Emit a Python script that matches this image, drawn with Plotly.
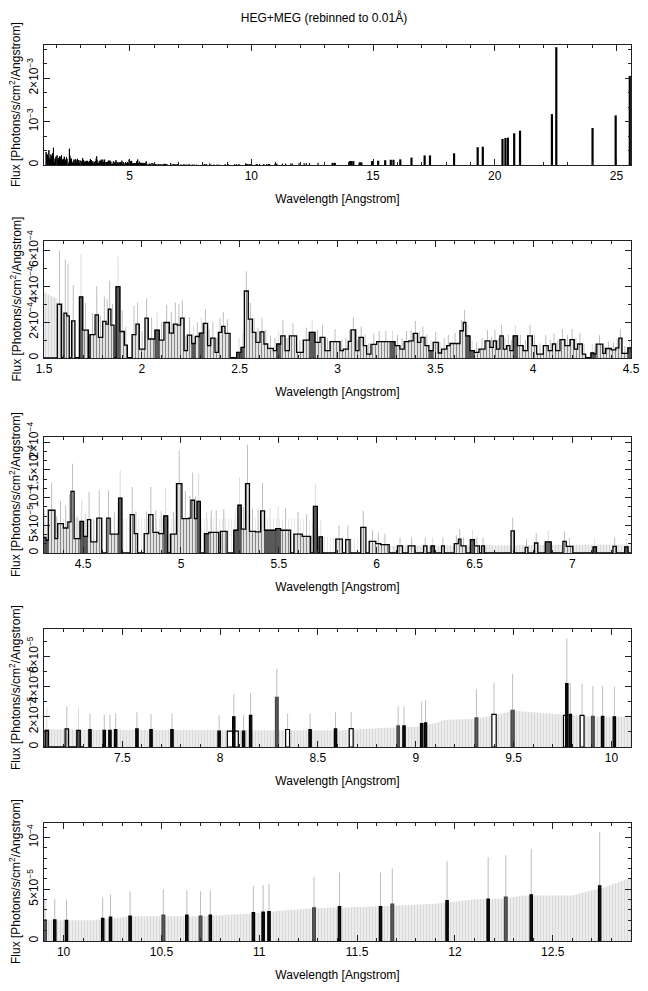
import numpy as np
import plotly.graph_objects as go
from plotly.subplots import make_subplots

SCALE = 1e-5  # all flux values below are in units of 1e-5 photons/s/cm^2/Angstrom

# ---- binned spectrum 1.5 - 7.3 A (left bin edges, flux, upper error) ----
bin_lo = [
    1.500, 1.568, 1.590, 1.602, 1.616, 1.629, 1.641, 1.658, 1.681, 1.698,
    1.727, 1.735, 1.761, 1.778, 1.800, 1.817, 1.829, 1.842, 1.858, 1.868,
    1.888, 1.911, 1.926, 1.950, 1.970, 1.987, 2.016, 2.033, 2.067, 2.089,
    2.113, 2.141, 2.161, 2.181, 2.198, 2.216, 2.233, 2.255, 2.273, 2.294,
    2.314, 2.336, 2.352, 2.374, 2.391, 2.408, 2.425, 2.451, 2.485, 2.507,
    2.524, 2.544, 2.565, 2.583, 2.604, 2.624, 2.643, 2.672, 2.689, 2.710,
    2.732, 2.754, 2.791, 2.825, 2.856, 2.885, 2.911, 2.936, 2.962, 3.013,
    3.030, 3.055, 3.069, 3.093, 3.110, 3.132, 3.149, 3.171, 3.200, 3.226,
    3.268, 3.294, 3.319, 3.341, 3.365, 3.387, 3.409, 3.426, 3.447, 3.467,
    3.489, 3.515, 3.532, 3.558, 3.575, 3.626, 3.643, 3.656, 3.677, 3.699,
    3.723, 3.754, 3.779, 3.796, 3.813, 3.830, 3.847, 3.864, 3.881, 3.898,
    3.920, 3.949, 3.972, 3.996, 4.018, 4.052, 4.077, 4.098, 4.115, 4.137,
    4.162, 4.188, 4.210, 4.227, 4.251, 4.268, 4.295, 4.310, 4.322, 4.356,
    4.370, 4.399, 4.422, 4.438, 4.454, 4.484, 4.502, 4.522, 4.539, 4.570,
    4.595, 4.621, 4.638, 4.681, 4.698, 4.741, 4.761, 4.778, 4.812, 4.835,
    4.857, 4.886, 4.912, 4.932, 4.946, 4.977, 5.005, 5.040, 5.051, 5.069,
    5.082, 5.099, 5.120, 5.142, 5.168, 5.193, 5.202, 5.236, 5.270, 5.291,
    5.308, 5.330, 5.350, 5.381, 5.407, 5.427, 5.484, 5.509, 5.560, 5.577,
    5.620, 5.663, 5.677, 5.697, 5.706, 5.723, 5.791, 5.825, 5.842, 5.864,
    5.919, 5.945, 5.962, 5.996, 6.021, 6.064, 6.107, 6.132, 6.161, 6.196,
    6.240, 6.257, 6.278, 6.295, 6.332, 6.346, 6.397, 6.418, 6.431, 6.457,
    6.479, 6.500, 6.525, 6.537, 6.551, 6.687, 6.704, 6.759, 6.773, 6.807,
    6.824, 6.862, 6.892, 6.952, 6.969, 7.003, 7.106, 7.123, 7.208, 7.225,
    7.268, 7.285,
]
bin_end = 7.300
bin_flux = [
    0, 30.0, 0, 25.0, 23.5, 0, 20.7, 0, 34.1, 15.6,
    0, 13.0, 24.1, 11.5, 20.4, 18.9, 27.2, 18.3, 0, 39.8,
    14.8, 7.2, 0, 13.0, 18.9, 5.0, 22.2, 10.6, 15.6, 10.0,
    19.8, 13.9, 18.9, 18.3, 22.2, 4.1, 12.8, 8.1, 12.0, 13.9,
    19.3, 6.9, 11.1, 3.1, 14.3, 17.6, 13.7, 0, 3.1, 5.9,
    37.4, 21.7, 14.3, 8.7, 14.6, 7.8, 5.4, 4.1, 7.8, 12.4,
    4.1, 12.4, 3.1, 10.0, 14.3, 8.7, 11.5, 4.1, 9.1, 4.1,
    5.0, 9.3, 15.7, 4.1, 11.5, 6.9, 2.2, 7.6, 9.1, 9.1,
    9.1, 6.9, 5.0, 9.1, 9.6, 13.7, 8.7, 11.5, 6.9, 4.1,
    8.7, 2.8, 5.0, 6.9, 8.1, 15.2, 19.8, 12.4, 4.1, 3.1,
    5.0, 9.6, 5.9, 9.6, 5.0, 12.4, 5.0, 6.9, 4.1, 12.4,
    6.9, 4.1, 12.4, 6.9, 2.2, 6.9, 4.1, 7.8, 4.1, 10.2,
    6.9, 10.2, 5.0, 7.8, 2.2, 0, 2.8, 2.3, 7.7, 2.6,
    5.3, 4.5, 5.6, 11.1, 2.6, 5.7, 3.0, 6.0, 2.0, 6.3,
    0, 6.3, 3.4, 9.9, 0, 6.9, 3.5, 0, 3.5, 6.9,
    3.7, 3.5, 6.7, 0, 3.4, 12.5, 6.2, 6.3, 9.5, 6.2,
    9.3, 0, 3.5, 3.7, 3.7, 0, 3.9, 0, 4.1, 8.6,
    4.3, 12.5, 3.9, 3.8, 7.6, 4.1, 4.4, 4.1, 0, 3.4,
    3.0, 0, 8.4, 0, 2.9, 0, 2.5, 0, 2.4, 0,
    4.6, 0, 2.1, 1.7, 1.5, 0, 1.3, 0, 1.3, 0,
    1.3, 0, 1.3, 0, 1.3, 0, 1.7, 2.5, 1.3, 0,
    2.4, 1.3, 0, 1.3, 0, 4.0, 0, 1.0, 0, 1.8,
    0, 2.0, 0, 2.1, 1.2, 0, 1.1, 0, 1.2, 0,
    1.1, 0,
]
bin_err = [
    0, 30, 0, 30, 29, 0, 20, 0, 24, 15,
    0, 12, 16, 12, 14, 14, 16, 12, 0, 17,
    12, 10, 0, 16, 12, 10, 11, 12, 10, 10,
    10, 12, 12, 12, 10, 8, 10, 10, 8, 9,
    8, 9, 9, 8, 8, 8, 8, 0, 8, 8,
    11, 9, 8, 8, 8, 8, 7, 7, 7, 9,
    7, 7, 7, 7, 7, 7, 7, 7, 7, 6,
    6, 6, 7, 6, 6, 6, 6, 6, 6, 6,
    6, 6, 6, 6, 6, 7, 6, 6, 6, 6,
    6, 6, 6, 6, 6, 6, 7, 6, 6, 6,
    6, 6, 6, 6, 6, 6, 6, 6, 6, 6,
    6, 6, 6, 6, 6, 6, 6, 6, 6, 6,
    6, 6, 6, 6, 6, 0, 5, 3, 5, 4,
    4, 4, 5, 5, 4, 4, 4, 5, 4, 5,
    0, 5, 4, 5, 0, 5, 4, 0, 4, 5,
    4, 4, 5, 0, 4, 6, 5, 4, 5, 4,
    5, 0, 4, 4, 4, 0, 4, 0, 4, 5,
    4, 7, 4, 4, 5, 4, 4, 4, 0, 4,
    4, 0, 4, 0, 3, 0, 2.5, 0, 2.5, 0,
    3, 0, 2, 2, 2, 0, 1.5, 0, 1.5, 0,
    1.5, 0, 1.5, 0, 1.5, 0, 1.5, 1.8, 1.5, 0,
    1.8, 1.5, 0, 1.5, 0, 2.4, 0, 1.5, 0, 1.8,
    0, 2, 0, 1.8, 1.5, 0, 1.5, 0, 1.5, 0,
    1.5, 0,
]
# bins belonging to the second (grey) grating histogram
dark_lo = [1.681, 1.868, 2.067, 2.255, 2.294, 2.485, 2.507, 2.689, 2.856, 3.268,
           3.467, 3.656, 3.677, 3.898, 4.295, 4.310, 4.484, 4.502, 4.681, 4.912,
           5.082, 5.120, 5.270, 5.291, 5.427, 5.484, 5.677, 5.706, 6.278, 6.479,
           6.862, 7.106, 7.268]

# ---- isolated detected bins 7.3 - 12.9 A ----
sp_wl = [7.335, 7.408, 7.437, 7.466, 7.575, 7.647, 7.754, 7.995, 8.065, 8.070,
         8.120, 8.156, 8.290, 8.345, 8.460, 8.590, 8.670, 8.910, 8.940, 9.030,
         9.050, 9.310, 9.400, 9.495, 9.765, 9.772, 9.790, 9.850, 9.905, 9.955,
         10.015, 10.200, 10.240, 10.340, 10.510, 10.630, 10.700, 10.750, 10.970, 11.020,
         11.050, 11.280, 11.410, 11.620, 11.680, 11.960, 12.170, 12.260, 12.390, 12.740]
sp_width = [0.012, 0.012, 0.012, 0.012, 0.012, 0.012, 0.012, 0.012, 0.056, 0.012,
            0.012, 0.012, 0.014, 0.020, 0.012, 0.012, 0.020, 0.012, 0.012, 0.012,
            0.012, 0.014, 0.022, 0.016, 0.020, 0.012, 0.012, 0.020, 0.014, 0.012,
            0.012, 0.012, 0.012, 0.012, 0.014, 0.012, 0.014, 0.012, 0.012, 0.012,
            0.012, 0.014, 0.012, 0.012, 0.014, 0.012, 0.012, 0.014, 0.012, 0.012]
sp_flux = [1.16, 1.10, 1.10, 1.16, 1.20, 1.16, 1.16, 1.05, 1.05, 2.00,
           1.05, 2.10, 3.30, 1.16, 1.16, 1.20, 1.22, 1.40, 1.40, 1.55,
           1.60, 1.93, 2.16, 2.44, 2.10, 4.20, 2.16, 2.10, 2.04, 2.04,
           2.00, 2.20, 2.30, 2.40, 2.50, 2.50, 2.40, 2.50, 2.75, 2.80,
           2.85, 3.20, 3.33, 3.33, 3.56, 3.90, 4.05, 4.24, 4.47, 5.34]
sp_err = [1.04, 1.05, 1.05, 1.04, 1.10, 1.04, 1.04, 1.05, 0.00, 1.50,
          1.10, 1.50, 1.90, 1.04, 1.04, 1.10, 1.10, 1.30, 1.30, 1.45,
          1.50, 1.90, 2.10, 2.40, 0.00, 3.00, 2.10, 2.10, 2.00, 2.00,
          2.00, 2.00, 2.20, 2.40, 2.50, 2.40, 2.40, 2.40, 2.55, 2.60,
          2.65, 3.00, 3.27, 3.27, 3.44, 3.80, 4.05, 4.06, 4.43, 5.16]
sp_kind = ['b', 'b', 'b', 'b', 'b', 'b', 'b', 'b', 'h', 'b',
           'b', 'b', 'd', 'h', 'b', 'b', 'h', 'd', 'b', 'b',
           'b', 'd', 'h', 'd', 'h', 'b', 'b', 'h', 'd', 'b',
           'b', 'b', 'b', 'b', 'd', 'b', 'd', 'b', 'b', 'b',
           'b', 'd', 'b', 'b', 'd', 'b', 'b', 'd', 'b', 'b']

# ---- upper-limit envelope for empty bins ----
env_a_wl = [1.500, 1.530, 1.568]
env_a_val = [37, 35, 33]
env_b_wl = [4.30, 5.65, 5.72, 5.95, 6.03, 6.08]
env_b_val = [6.2, 6.2, 3.0, 2.6, 1.8, 1.3]
env_c_wl = [6.08, 7.30, 8.60, 8.80, 9.00,
            9.10, 9.15, 9.30, 9.40, 9.50, 9.60, 9.70, 9.90, 10.15, 10.25,
            10.35, 10.70, 11.00, 11.15, 11.30, 11.60, 11.90, 12.10, 12.25, 12.35,
            12.60, 12.68, 12.75, 12.90]
env_c_val = [1.3, 1.15, 1.1, 1.25, 1.35,
             1.6, 1.8, 1.85, 2.1, 2.4, 2.3, 2.2, 2.0, 2.0, 2.2,
             2.4, 2.4, 2.7, 3.0, 3.2, 3.33, 3.6, 4.0, 4.1, 4.4,
             4.4, 4.8, 5.1, 6.1]

# ---- strong long-wavelength lines (full-range panel) ----
line_wl = [13.34, 13.43, 14.06, 14.10, 14.19, 14.45, 14.52, 14.96, 15.21, 15.50,
           15.73, 15.84, 16.12, 16.58, 17.12, 17.34, 18.33, 19.30, 19.51, 20.32,
           20.44, 20.54, 20.80, 21.04, 22.35, 22.53, 24.02, 24.97, 25.55]
line_flux = [5, 5, 9, 9, 9, 6, 6, 9, 10, 11,
             12, 12, 13, 17, 22, 22, 27, 41, 42, 60,
             62, 63, 73, 79, 117, 271, 85, 114, 205]

assert len(bin_lo) == len(bin_flux) == len(bin_err)
assert len(sp_wl) == len(sp_width) == len(sp_flux) == len(sp_err) == len(sp_kind)

# ---------------------------------------------------------------------------
lo = np.array(bin_lo)
hi = np.append(lo[1:], bin_end)
cen = (lo + hi) / 2
flx = np.array(bin_flux) * SCALE
err = np.array(bin_err) * SCALE
dark = np.isin(np.round(lo, 3), np.round(dark_lo, 3))
pos = flx > 0

spw = np.array(sp_wl); spd = np.array(sp_width)
spf = np.array(sp_flux) * SCALE; spe = np.array(sp_err) * SCALE
spk = np.array(sp_kind)


def segs(xs, y0, y1):
    X, Y = [], []
    for x, a, b in zip(xs, y0, y1):
        X += [x, x, None]
        Y += [a, b, None]
    return X, Y


def rects(l, h, t):
    X, Y = [], []
    for a, b, c in zip(l, h, t):
        X += [a, a, b, b, a, None]
        Y += [0, c, c, 0, 0, None]
    return X, Y


FONT = "Liberation Sans, Arial, Helvetica, sans-serif"
PAGE = 8                 # default body margin of the html page
W, H = 648 - 2 * PAGE, 991 - 2 * PAGE
X0, X1 = 44 - PAGE, 631 - PAGE
boxes = [(45, 165), (241, 358), (437, 553), (629, 747), (823, 941)]   # page pixels
x_ranges = [(1.48, 25.6), (1.5, 4.5), (4.3, 7.3), (7.1, 10.1), (9.9, 12.9)]
y_ranges = [2.76e-3, 6.53e-4, 2.09e-4, 7.83e-5, 1.14e-4]
y_ticks = [
    ([0, 1e-3, 2e-3], ["0", "10<sup>−3</sup>", "2×10<sup>−3</sup>"], 1e-3 / 3),
    ([0, 2e-4, 4e-4, 6e-4], ["0", "2×10<sup>−4</sup>", "4×10<sup>−4</sup>", "6×10<sup>−4</sup>"], 1e-4),
    ([0, 5e-5, 1e-4, 1.5e-4, 2e-4], ["0", "5×10<sup>−5</sup>", "10<sup>−4</sup>", "1.5×10<sup>−4</sup>", "2×10<sup>−4</sup>"], 5e-5 / 3),
    ([0, 2e-5, 4e-5, 6e-5], ["0", "2×10<sup>−5</sup>", "4×10<sup>−5</sup>", "6×10<sup>−5</sup>"], 1e-5),
    ([0, 5e-5, 1e-4], ["0", "5×10<sup>−5</sup>", "10<sup>−4</sup>"], 1e-5),
]

fig = make_subplots(rows=5, cols=1)

ENV_LIGHT = dict(shape='|', fgcolor='#d2d2d2', bgcolor='#ffffff', size=3, solidity=0.35)
ENV_GREY = dict(shape='|', fgcolor='#c4c4c4', bgcolor='#eeeeee', size=3, solidity=0.4)


def add(tr, r):
    tr.update(showlegend=False, hoverinfo='skip')
    fig.add_trace(tr, row=r, col=1)


for r in range(1, 6):
    if r == 1:
        m = pos
        X, Y = rects(lo[m], hi[m], flx[m])
        add(go.Scatter(x=X, y=Y, mode='lines', fill='toself', fillcolor='#111111',
                       line=dict(color='black', width=1.0)), 1)
        X, Y = segs(spw, np.zeros(len(spw)), spf)
        add(go.Scatter(x=X, y=Y, mode='lines', line=dict(color='black', width=1.2)), 1)
        X, Y = segs(line_wl, np.zeros(len(line_wl)), np.array(line_flux) * SCALE)
        add(go.Scatter(x=X, y=Y, mode='lines', line=dict(color='black', width=2.2)), 1)
        continue

    # envelopes (upper limits)
    for ew, ev, pat in ((env_a_wl, env_a_val, ENV_GREY), (env_b_wl, env_b_val, ENV_LIGHT),
                        (env_c_wl, env_c_val, ENV_GREY)):
        add(go.Scatter(x=ew, y=np.array(ev) * SCALE, mode='lines', line=dict(width=0, color='#dddddd'),
                       fill='tozeroy', fillcolor=pat['bgcolor'], fillpattern=pat), r)
    # error bars
    m = pos & ~dark
    X, Y = segs(cen[m], flx[m], flx[m] + err[m])
    add(go.Scatter(x=X, y=Y, mode='lines', line=dict(color='#bdbdbd', width=1)), r)
    m = pos & dark
    X, Y = segs(cen[m], flx[m], flx[m] + err[m])
    add(go.Scatter(x=X, y=Y, mode='lines', line=dict(color='#dcdcdc', width=1)), r)
    m = spe > 0
    X, Y = segs(spw[m], spf[m], spf[m] + spe[m])
    add(go.Scatter(x=X, y=Y, mode='lines', line=dict(color='#bdbdbd', width=1)), r)
    # binned flux: first grating striped, second grating grey
    m = pos & ~dark
    X, Y = rects(lo[m], hi[m], flx[m])
    add(go.Scatter(x=X, y=Y, mode='lines', fill='toself', fillcolor='white', line=dict(width=0),
                   fillpattern=dict(shape='|', fgcolor='#111111', bgcolor='white', size=3, solidity=0.5)), r)
    m = pos & dark
    X, Y = rects(lo[m], hi[m], flx[m])
    add(go.Scatter(x=X, y=Y, mode='lines', fill='toself', fillcolor='#5a5a5a',
                   line=dict(width=0.8, color='#4a4a4a')), r)
    # step outline
    add(go.Scatter(x=list(lo) + [bin_end], y=list(flx) + [flx[-1]], mode='lines',
                   line=dict(color='black', width=1.3, shape='hv')), r)
    # isolated bins
    for kind, fill, lc in (('h', 'white', 'black'), ('d', '#5a5a5a', '#444444'), ('b', '#111111', 'black')):
        m = spk == kind
        X, Y = rects(spw[m] - spd[m] / 2, spw[m] + spd[m] / 2, spf[m])
        add(go.Scatter(x=X, y=Y, mode='lines', fill='toself', fillcolor=fill,
                       line=dict(width=1.2, color=lc)), r)

fig.update_layout(width=W, height=H,
                  margin=dict(l=0, r=0, t=0, b=0, autoexpand=False),
                  paper_bgcolor='white', plot_bgcolor='white',
                  font=dict(family=FONT, size=12, color='black'),
                  title=dict(text="HEG+MEG (rebinned to 0.01Å)", x=0.5, xanchor='center',
                             y=1 - (18 - PAGE) / H, yanchor='middle', font=dict(size=12, family=FONT)))

for i in range(5):
    top, bot = boxes[i][0] - PAGE, boxes[i][1] - PAGE
    xa = 'xaxis' if i == 0 else f'xaxis{i + 1}'
    ya = 'yaxis' if i == 0 else f'yaxis{i + 1}'
    big = (i == 0)
    fig.layout[xa].update(
        domain=[X0 / W, X1 / W], range=list(x_ranges[i]), automargin=False,
        showline=True, linecolor='#222222', linewidth=1, mirror='allticks',
        ticks='inside', ticklen=6, tickcolor='#222222', showgrid=False, zeroline=False,
        tickmode='linear', tick0=0, dtick=5 if big else 0.5,
        minor=dict(tickmode='linear', tick0=0, dtick=1 if big else 0.1, ticks='inside',
                   ticklen=3, tickcolor='#222222', showgrid=False),
        tickfont=dict(size=12, family=FONT),
        title=dict(text="Wavelength [Angstrom]", font=dict(size=12, family=FONT), standoff=12),
    )
    vals, txt, mdt = y_ticks[i]
    fig.layout[ya].update(
        domain=[1 - bot / H, 1 - top / H], range=[0, y_ranges[i]], automargin=False,
        showline=True, linecolor='#222222', linewidth=1, mirror='allticks',
        ticks='inside', ticklen=6, tickcolor='#222222', showgrid=False,
        zeroline=True, zerolinecolor='black', zerolinewidth=1.5,
        tickmode='array', tickvals=vals, ticktext=txt, tickangle=-90,
        minor=dict(tickmode='linear', tick0=0, dtick=mdt, ticks='inside', ticklen=3,
                   tickcolor='#222222', showgrid=False),
        tickfont=dict(size=12, family=FONT),
    )
    fig.add_annotation(text="Flux [Photons/s/cm<sup>2</sup>/Angstrom]", textangle=-90,
                       xref='paper', yref='paper', x=(15 - PAGE) / W, y=1 - (top + bot) / 2 / H,
                       xanchor='center', yanchor='middle', showarrow=False, borderpad=0,
                       font=dict(size=12, family=FONT))

fig.write_html("out.html")
